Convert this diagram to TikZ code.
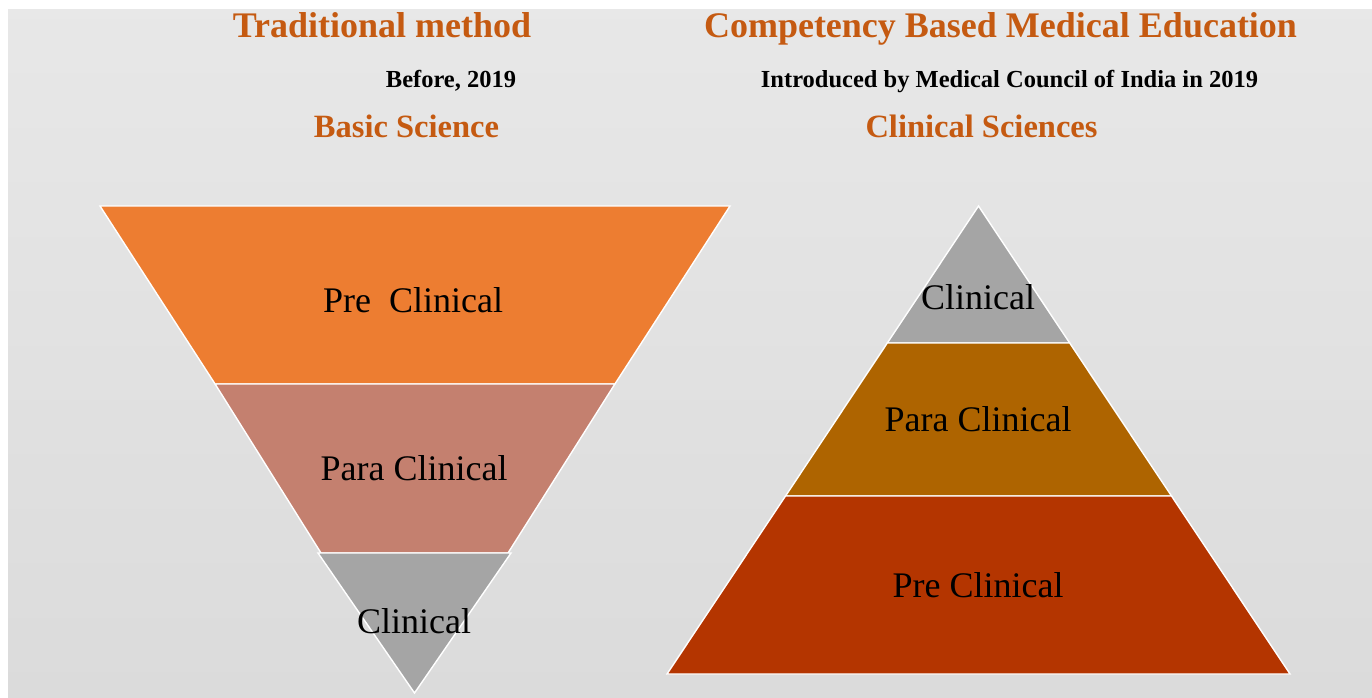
\documentclass[tikz,border=0pt]{standalone}
\usepackage{fontspec}
\setmainfont{Liberation Serif}
\definecolor{bgtop}{HTML}{EEEEEE}
\definecolor{bgmid}{HTML}{D8D8D8}
\definecolor{bgbot}{HTML}{DFDFDF}
\definecolor{headorange}{HTML}{C55A11}
\definecolor{preorange}{HTML}{ED7D31}
\definecolor{parasalmon}{HTML}{C4806F}
\definecolor{clingrey}{HTML}{A5A5A5}
\definecolor{paraochre}{HTML}{AE6400}
\definecolor{prerust}{HTML}{B43500}
\pgfdeclareverticalshading{panelshade}{100bp}{color(0bp)=(bgbot); color(13bp)=(bgmid); color(100bp)=(bgtop)}
\tikzset{
  layer/.style={draw=white, line width=1.4pt, line join=miter},
  heading/.style={text=headorange, font=\fontsize{36}{40}\selectfont\bfseries, anchor=base, inner sep=0pt},
  subhead/.style={text=headorange, font=\fontsize{32.5}{36}\selectfont\bfseries, anchor=base, inner sep=0pt},
  note/.style={text=black, font=\fontsize{24.5}{28}\selectfont\bfseries, anchor=base, inner sep=0pt},
  tier/.style={text=black, font=\fontsize{36}{40}\selectfont, anchor=base, inner sep=0pt},
}
\begin{document}
\begin{tikzpicture}[x=1pt, y=-1pt]
\useasboundingbox (0,0) rectangle (1372,697);
% panel background
\fill[white] (0,0) rectangle (1372,697);
\shade[shading=panelshade] (8,9) rectangle (1372,697);

% headings
\node[heading] (tradtitle) at (382,37) {Traditional method};
\node[heading] (cbmetitle) at (1000.5,37) {Competency Based Medical Education};
\node[note] (tradnote) at (451,87) {Before, 2019};
\node[note] (cbmenote) at (1009.5,87) {Introduced by Medical Council of India in 2019};
\node[subhead] (tradfocus) at (406.5,137) {Basic Science};
\node[subhead] (cbmefocus) at (981.5,137) {Clinical Sciences};

% inverted funnel: traditional order
\filldraw[layer, fill=preorange] (100,206) -- (730,206) -- (614.9,384) -- (215.1,384) -- cycle;
\filldraw[layer, fill=parasalmon] (215.1,384) -- (614.9,384) -- (508,553) -- (321,553) -- cycle;
\filldraw[layer, fill=clingrey] (318,553) -- (511,553) -- (414.5,693) -- cycle;
\node[tier] (tradpre) at (413,312) {Pre\ \ Clinical};
\node[tier] (tradpara) at (414,480) {Para Clinical};
\node[tier] (tradclin) at (414,633) {Clinical};

% pyramid: competency based order
\filldraw[layer, fill=clingrey] (978.5,206) -- (1069.7,343) -- (887.3,343) -- cycle;
\filldraw[layer, fill=paraochre] (887.3,343) -- (1069.7,343) -- (1171.5,496) -- (785.5,496) -- cycle;
\filldraw[layer, fill=prerust] (785.5,496) -- (1171.5,496) -- (1290,674) -- (667,674) -- cycle;
\node[tier] (cbmeclin) at (978,309) {Clinical};
\node[tier] (cbmepara) at (978,431) {Para Clinical};
\node[tier] (cbmepre) at (978,597) {Pre Clinical};
\end{tikzpicture}
\end{document}
